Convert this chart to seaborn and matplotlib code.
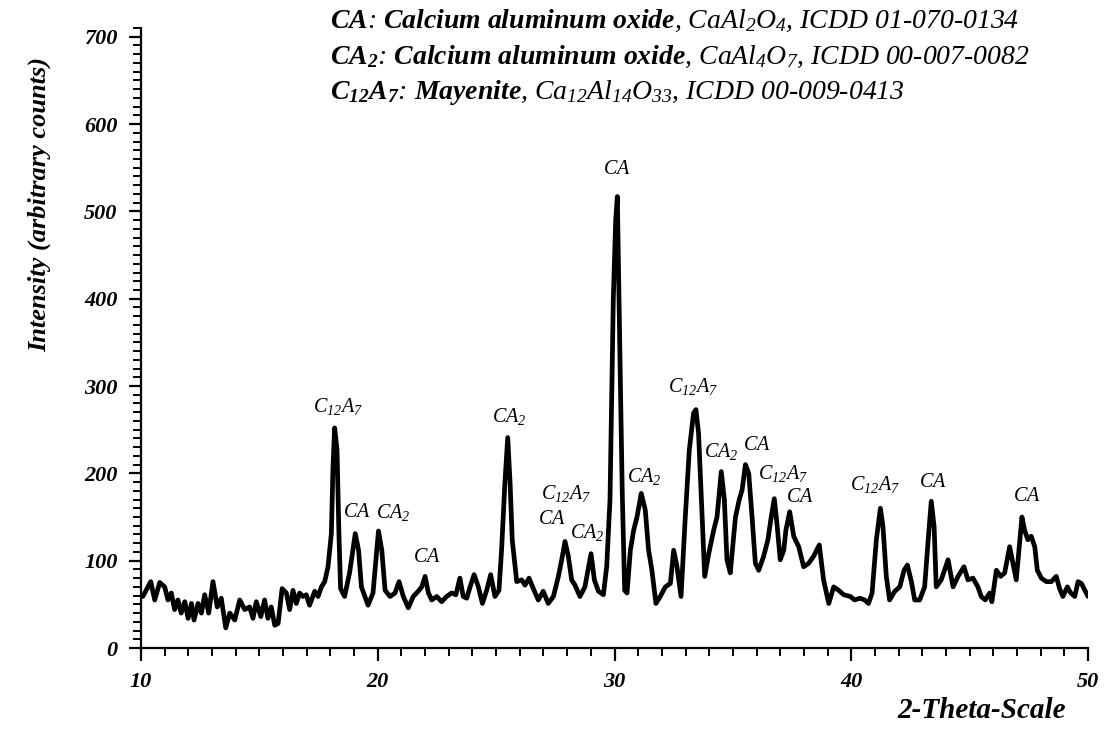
import matplotlib
matplotlib.use("Agg")
import matplotlib.pyplot as plt
from matplotlib.ticker import MultipleLocator
from matplotlib.font_manager import FontProperties
import seaborn as sns
import pandas as pd

# ---- diffraction pattern, read in four 10-degree segments ----
theta_10_20 = [10.00, 10.08, 10.41, 10.58, 10.79, 11.00, 11.14, 11.28, 11.42, 11.56,
               11.70, 11.85, 11.99, 12.13, 12.24, 12.41, 12.55, 12.69, 12.86, 13.04,
               13.22, 13.39, 13.58, 13.75, 13.96, 14.17, 14.38, 14.59, 14.73, 14.87,
               15.06, 15.22, 15.36, 15.50, 15.65, 15.79, 15.96, 16.14, 16.28, 16.42,
               16.56, 16.70, 16.84, 16.98, 17.12, 17.34, 17.48, 17.62, 17.76, 17.90,
               18.04, 18.11, 18.18, 18.28, 18.36, 18.43, 18.60, 18.81, 19.05, 19.19,
               19.31, 19.59, 19.80]
counts_10_20 = [60, 59, 76, 55, 75, 70, 55, 63, 44, 55,
                40, 53, 34, 51, 32, 51, 40, 61, 40, 76,
                47, 57, 23, 40, 32, 55, 44, 47, 34, 53,
                36, 55, 34, 47, 26, 28, 68, 63, 44, 66,
                51, 63, 59, 61, 49, 65, 59, 70, 76, 93,
                131, 208, 252, 227, 131, 68, 59, 86, 131, 112,
                70, 49, 63]

theta_20_30 = [20.03, 20.17, 20.31, 20.52, 20.73, 20.90, 21.08, 21.29, 21.50, 21.71,
               21.86, 22.00, 22.14, 22.28, 22.49, 22.70, 22.91, 23.12, 23.30, 23.47,
               23.61, 23.76, 23.90, 24.07, 24.25, 24.42, 24.60, 24.77, 24.95, 25.12,
               25.23, 25.37, 25.49, 25.59, 25.68, 25.87, 26.08, 26.22, 26.39, 26.57,
               26.78, 26.99, 27.20, 27.42, 27.63, 27.77, 27.91, 28.05, 28.19, 28.33,
               28.54, 28.75, 29.01, 29.15, 29.32, 29.53, 29.67, 29.81, 29.95]
counts_20_30 = [134, 112, 66, 59, 63, 76, 59, 46, 59, 65,
                70, 82, 63, 55, 59, 53, 59, 63, 61, 80,
                59, 57, 70, 84, 70, 51, 66, 84, 59, 66,
                112, 189, 241, 189, 124, 76, 78, 72, 80, 68,
                55, 65, 51, 59, 82, 101, 122, 105, 78, 72,
                59, 70, 108, 78, 65, 61, 93, 170, 400]

theta_30_40 = [30.05, 30.12, 30.19, 30.26, 30.33, 30.43, 30.53, 30.67, 30.81, 30.95,
               31.13, 31.30, 31.44, 31.58, 31.75, 31.93, 32.15, 32.36, 32.50, 32.64,
               32.81, 32.99, 33.16, 33.34, 33.44, 33.55, 33.67, 33.81, 33.98, 34.19,
               34.33, 34.51, 34.64, 34.75, 34.89, 35.11, 35.27, 35.39, 35.53, 35.67,
               35.81, 35.95, 36.09, 36.30, 36.48, 36.62, 36.75, 36.86, 37.00, 37.15,
               37.24, 37.40, 37.57, 37.78, 37.99, 38.20, 38.41, 38.65, 38.83, 39.05,
               39.26, 39.47, 39.68, 39.96]
counts_30_40 = [490, 517, 400, 285, 175, 66, 63, 112, 135, 150,
                177, 158, 112, 89, 51, 59, 70, 74, 112, 93,
                59, 150, 227, 269, 273, 246, 170, 82, 108, 135,
                150, 202, 170, 101, 86, 150, 170, 181, 210, 200,
                150, 97, 89, 105, 124, 150, 171, 143, 101, 112,
                135, 156, 128, 116, 93, 97, 105, 118, 78, 51,
                70, 66, 61, 59]

theta_40_50 = [40.14, 40.36, 40.57, 40.73, 40.88, 41.06, 41.23, 41.34, 41.48, 41.62,
               41.84, 42.05, 42.23, 42.37, 42.54, 42.68, 42.89, 43.10, 43.27, 43.38,
               43.50, 43.59, 43.80, 44.09, 44.30, 44.51, 44.76, 44.93, 45.14, 45.35,
               45.49, 45.66, 45.85, 45.94, 46.13, 46.31, 46.48, 46.69, 46.83, 46.97,
               47.11, 47.21, 47.32, 47.46, 47.60, 47.75, 47.86, 48.03, 48.24, 48.45,
               48.66, 48.80, 48.94, 49.13, 49.27, 49.44, 49.58, 49.72, 49.89, 50.00]
counts_40_50 = [55, 57, 55, 51, 63, 124, 160, 139, 82, 55,
                65, 70, 89, 95, 76, 55, 55, 70, 131, 168,
                139, 70, 78, 101, 70, 82, 93, 78, 80, 70,
                59, 55, 63, 53, 89, 82, 86, 116, 97, 78,
                120, 150, 135, 124, 128, 116, 89, 80, 76, 76,
                82, 68, 59, 70, 63, 59, 76, 74, 65, 59]

# ---- phase labels placed above the reflections ----
peak_labels = ["$C_{12}A_7$", "$CA$", "$CA_2$", "$CA$", "$CA_2$", "$C_{12}A_7$",
               "$CA$", "$CA_2$", "$CA$", "$CA_2$", "$C_{12}A_7$", "$CA_2$", "$CA$",
               "$C_{12}A_7$", "$CA$", "$C_{12}A_7$", "$CA$", "$CA$"]
peak_label_theta = [18.32, 19.10, 20.65, 22.08, 25.54, 27.95, 27.36, 28.84, 30.10,
                    31.25, 33.32, 34.50, 36.00, 37.10, 37.84, 41.00, 43.45, 47.42]
peak_label_counts = [276, 155, 155, 104, 265, 177, 147, 132, 548, 196, 299, 225,
                     232, 200, 172, 187, 190, 173]

phase_lines = [
    r"$\mathbf{CA}$: $\mathbf{Calcium\ aluminum\ oxide}$, $CaAl_2O_4$, ICDD 01-070-0134",
    r"$\mathbf{CA_2}$: $\mathbf{Calcium\ aluminum\ oxide}$, $CaAl_4O_7$, ICDD 00-007-0082",
    r"$\mathbf{C_{12}A_7}$: $\mathbf{Mayenite}$, $Ca_{12}Al_{14}O_{33}$, ICDD 00-009-0413",
]

x_tick_values = [10, 20, 30, 40, 50]
y_tick_values = [0, 100, 200, 300, 400, 500, 600, 700]

df = pd.DataFrame({
    "two_theta": theta_10_20 + theta_20_30 + theta_30_40 + theta_40_50,
    "counts": counts_10_20 + counts_20_30 + counts_30_40 + counts_40_50,
})

sns.set_theme(style="ticks")
serif = "Liberation Serif"
plt.rcParams["font.family"] = [serif, "DejaVu Serif"]
plt.rcParams["mathtext.fontset"] = "custom"
plt.rcParams["mathtext.rm"] = "Liberation Serif:italic"
plt.rcParams["mathtext.it"] = "Liberation Serif:italic"
plt.rcParams["mathtext.bf"] = "Liberation Serif:italic:bold"

fig = plt.figure(figsize=(11.05, 7.49), dpi=100)
fig.patch.set_facecolor("white")
ax = fig.add_axes([141 / 1105, 1 - 648 / 749, (1088 - 141) / 1105, (648 - 28) / 749])
ax.set_facecolor("white")

sns.lineplot(data=df, x="two_theta", y="counts", ax=ax, color="black",
             linewidth=3.4, sort=False, estimator=None)
for ln in ax.get_lines():
    ln.set_solid_joinstyle("round")
    ln.set_solid_capstyle("round")

ax.set_xlim(10, 50)
ax.set_ylim(0, 710)
ax.set_xlabel("")
ax.set_ylabel("")

for side in ("top", "right"):
    ax.spines[side].set_visible(False)
for side in ("left", "bottom"):
    ax.spines[side].set_linewidth(1.6)
    ax.spines[side].set_color("black")

ax.xaxis.set_minor_locator(MultipleLocator(1))
ax.yaxis.set_minor_locator(MultipleLocator(10))
ax.tick_params(axis="both", which="major", direction="out", length=9, width=1.6,
               color="black", labelcolor="black")
ax.tick_params(axis="both", which="minor", direction="out", length=6, width=1.4,
               color="black")
ax.tick_params(axis="x", which="major", pad=8)
ax.tick_params(axis="y", which="major", pad=8)

tick_font = FontProperties(family=serif, style="italic", weight="bold", size=16)
ax.set_xticks(x_tick_values)
ax.set_xticklabels([str(v) for v in x_tick_values], fontproperties=tick_font)
ax.set_yticks(y_tick_values)
ax.set_yticklabels([str(v) for v in y_tick_values], fontproperties=tick_font)

for txt, tx, ty in zip(peak_labels, peak_label_theta, peak_label_counts):
    ax.text(tx, ty, txt, ha="center", va="center", fontsize=14.5, color="black")

for i, line in enumerate(phase_lines):
    fig.text(330 / 1105, 1 - (28 + 35.5 * i) / 749, line, ha="left", va="baseline",
             fontsize=20, fontstyle="italic", family=serif, color="black")

fig.text(40 / 1105, 1 - 205 / 749, "Intensity (arbitrary counts)", rotation=90,
         ha="center", va="center", fontsize=19, fontstyle="italic",
         fontweight="bold", family=serif, color="black")
fig.text(982 / 1105, 1 - 711 / 749, "2-Theta-Scale", ha="center", va="center",
         fontsize=21, fontstyle="italic", fontweight="bold", family=serif,
         color="black")

fig.savefig("out.png", dpi=100, facecolor="white")
